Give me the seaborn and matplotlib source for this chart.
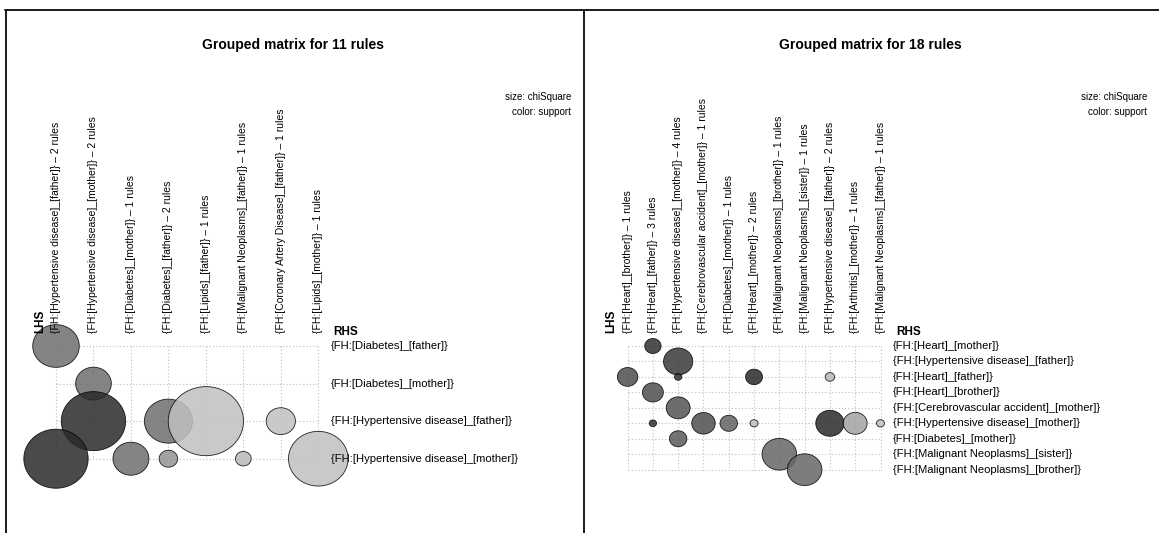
import numpy as np
import pandas as pd
import seaborn as sns
import matplotlib.pyplot as plt
from matplotlib.colors import LinearSegmentedColormap
from matplotlib.path import Path
from matplotlib.lines import Line2D

# === Left plot: 11 rules ===
lhs_a = ["{FH:[Hypertensive disease]_[father]}", "{FH:[Hypertensive disease]_[mother]}",
         "{FH:[Diabetes]_[mother]}", "{FH:[Diabetes]_[father]}", "{FH:[Lipids]_[father]}",
         "{FH:[Malignant Neoplasms]_[father]}", "{FH:[Coronary Artery Disease]_[father]}",
         "{FH:[Lipids]_[mother]}"]
rhs_a = ["{FH:[Diabetes]_[father]}", "{FH:[Diabetes]_[mother]}",
         "{FH:[Hypertensive disease]_[father]}", "{FH:[Hypertensive disease]_[mother]}"]
row_a = [0, 1, 2, 2, 2, 2, 3, 3, 3, 3, 3]
col_a = [0, 1, 1, 3, 4, 6, 0, 2, 3, 5, 7]
chisq_a = [114, 67, 218, 121, 298, 45, 218, 68, 18, 13, 187]
support_a = [0.021, 0.021, 0.030, 0.021, 0.010, 0.010, 0.030, 0.021, 0.016, 0.011, 0.010]

# === Right plot: 18 rules ===
lhs_b = ["{FH:[Heart]_[brother]}", "{FH:[Heart]_[father]}", "{FH:[Hypertensive disease]_[mother]}",
         "{FH:[Cerebrovascular accident]_[mother]}", "{FH:[Diabetes]_[mother]}", "{FH:[Heart]_[mother]}",
         "{FH:[Malignant Neoplasms]_[brother]}", "{FH:[Malignant Neoplasms]_[sister]}",
         "{FH:[Hypertensive disease]_[father]}", "{FH:[Arthritis]_[mother]}",
         "{FH:[Malignant Neoplasms]_[father]}"]
rhs_b = ["{FH:[Heart]_[mother]}", "{FH:[Hypertensive disease]_[father]}", "{FH:[Heart]_[father]}",
         "{FH:[Heart]_[brother]}", "{FH:[Cerebrovascular accident]_[mother]}",
         "{FH:[Hypertensive disease]_[mother]}", "{FH:[Diabetes]_[mother]}",
         "{FH:[Malignant Neoplasms]_[sister]}", "{FH:[Malignant Neoplasms]_[brother]}"]
row_b = [0, 1, 2, 2, 2, 2, 3, 4, 5, 5, 5, 5, 5, 5, 5, 6, 7, 8]
col_b = [1, 2, 0, 2, 5, 8, 1, 2, 1, 3, 4, 5, 8, 9, 10, 2, 6, 7]
chisq_b = [14, 45, 22, 2.8, 15, 4.7, 23, 30, 2.8, 29, 16, 3.3, 42, 30, 3.3, 16, 63, 63]
support_b = [0.029, 0.028, 0.025, 0.029, 0.030, 0.011, 0.025, 0.0244, 0.029, 0.025, 0.0224,
             0.010, 0.030, 0.014, 0.010, 0.0236, 0.022, 0.022]

sns.set_style("white")
plt.rcParams['font.family'] = ['Liberation Sans', 'DejaVu Sans']
plt.rcParams['text.color'] = 'black'

W, H = 1159, 533
fig = plt.figure(figsize=(W / 100, H / 100), dpi=100)

grey = LinearSegmentedColormap.from_list("grey", ["#c0c0c0", "#2a2a2a"])
t = np.linspace(0, 2 * np.pi, 90)
oval = Path(np.column_stack([1.09 * np.cos(t), np.sin(t)]), closed=True)


def grouped_matrix(px0, px1, x0, dx, y0, dy, lhs, rhs, rows, cols, chisq, support, title):
    ax = fig.add_axes([px0 / W, 0, (px1 - px0) / W, 1])
    nc, nr = len(lhs), len(rhs)
    df = pd.DataFrame({"LHS": cols, "RHS": rows, "chiSquare": chisq, "support": support})

    ax.hlines(range(nr), 0, nc - 1, colors="#bdbdbd", linestyles=(0, (1, 2)), lw=0.8, zorder=1)
    ax.vlines(range(nc), 0, nr - 1, colors="#bdbdbd", linestyles=(0, (1, 2)), lw=0.8, zorder=1)

    sns.scatterplot(data=df, x="LHS", y="RHS", size="chiSquare", sizes=(0, 9.85 * 300),
                    size_norm=(0, 300), hue="support", palette=grey,
                    hue_norm=(min(support), max(support)), marker=oval,
                    edgecolor="black", linewidth=0.6, alpha=0.85, legend=False, ax=ax, zorder=2)

    ax.set_xlim(-(x0 - px0) / dx, (px1 - x0) / dx)
    ax.set_ylim((H - y0) / dy, -y0 / dy)
    ax.axis("off")

    for j, lab in enumerate(lhs):
        n = cols.count(j)
        ax.annotate(f"{lab} – {n} rules", xy=(j, 0), xytext=(0, 9.4), textcoords="offset points",
                    rotation=90, ha="center", va="bottom", fontsize=7.5, zorder=3)
    for i, lab in enumerate(rhs):
        ax.annotate(lab, xy=(nc - 1, i), xytext=(9.1, 0), textcoords="offset points",
                    ha="left", va="center", fontsize=8.1, zorder=3)
    ax.annotate("LHS", xy=(0, 0), xytext=(-11.5, 9.4), textcoords="offset points",
                rotation=90, ha="center", va="bottom", fontsize=8.5, fontweight="bold")
    ax.annotate("RHS", xy=(nc - 1, 0), xytext=(11, 10), textcoords="offset points",
                ha="left", va="center", fontsize=8.5, fontweight="bold")

    cx = (px0 + px1) / 2 / W
    fig.text(cx - 1 / W, 1 - 45 / H, title, ha="center", va="center", fontsize=10, fontweight="bold")
    fig.text((px1 - 12) / W, 1 - 97 / H, "size: chiSquare", ha="right", va="center", fontsize=7)
    fig.text((px1 - 12) / W, 1 - 112 / H, "color: support", ha="right", va="center", fontsize=7)


grouped_matrix(6, 583, 56, 37.47, 346, 37.57, lhs_a, rhs_a, row_a, col_a, chisq_a, support_a,
               "Grouped matrix for 11 rules")
grouped_matrix(583, 1159, 627.6, 25.29, 346, 15.46, lhs_b, rhs_b, row_b, col_b, chisq_b, support_b,
               "Grouped matrix for 18 rules")

# frame lines around the two panels
for line in [([5 / W, 1], [1 - 10 / H, 1 - 10 / H]),
             ([6 / W, 6 / W], [0, 1 - 10 / H]),
             ([583.5 / W, 583.5 / W], [0, 1 - 10 / H])]:
    fig.add_artist(Line2D(line[0], line[1], color="#1a1a1a", lw=1.4, transform=fig.transFigure))

plt.savefig("out.png", dpi=100)
